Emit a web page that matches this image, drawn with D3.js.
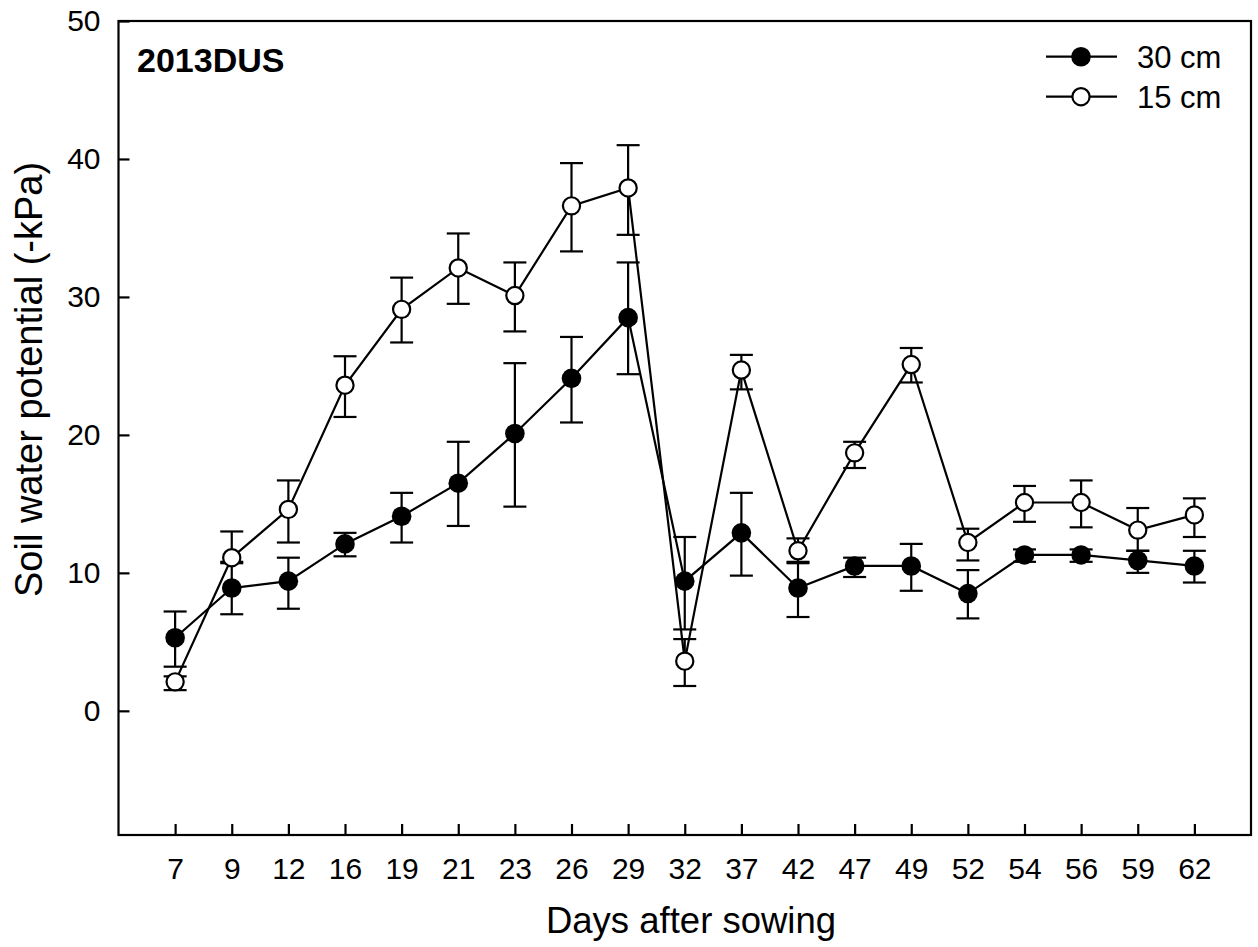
<!DOCTYPE html>
<html>
<head>
<meta charset="utf-8">
<script src="https://cdn.jsdelivr.net/npm/d3@7/dist/d3.min.js"></script>
<style>
  html, body { margin: 0; padding: 0; background: #fff; }
  svg { display: block; font-family: "Liberation Sans", Arial, sans-serif; }
</style>
</head>
<body>
<div id="chart"></div>
<script>
// 파종 후 일수 (x축 범주)
const days = [7, 9, 12, 16, 19, 21, 23, 26, 29, 32, 37, 42, 47, 49, 52, 54, 56, 59, 62];

// 30 cm 깊이 (검은 원)
const depth30 = [5.3, 8.9, 9.4, 12.1, 14.1, 16.5, 20.1, 24.1, 28.5, 9.4, 12.9, 8.9, 10.5, 10.5, 8.5, 11.3, 11.3, 10.9, 10.5];
const depth30Hi = [7.2, 10.8, 11.1, 12.9, 15.8, 19.5, 25.2, 27.1, 32.5, 12.6, 15.8, 10.8, 11.1, 12.1, 10.2, 11.7, 11.7, 11.6, 11.6];
const depth30Lo = [3.2, 7.0, 7.4, 11.2, 12.2, 13.4, 14.8, 20.9, 24.4, 5.9, 9.8, 6.8, 9.7, 8.7, 6.7, 10.8, 10.8, 10.0, 9.3];

// 15 cm 깊이 (흰 원)
const depth15 = [2.1, 11.1, 14.6, 23.6, 29.1, 32.1, 30.1, 36.6, 37.9, 3.6, 24.7, 11.6, 18.7, 25.1, 12.2, 15.1, 15.1, 13.1, 14.2];
const depth15Hi = [2.5, 13.0, 16.7, 25.7, 31.4, 34.6, 32.5, 39.7, 41.0, 5.2, 25.8, 12.5, 19.5, 26.3, 13.2, 16.3, 16.7, 14.7, 15.4];
const depth15Lo = [1.5, 10.7, 12.2, 21.3, 26.7, 29.5, 27.5, 33.3, 34.5, 1.8, 23.3, 10.7, 17.6, 23.8, 10.9, 13.7, 13.3, 11.6, 12.6];

const yTicks = [0, 10, 20, 30, 40, 50];
const seriesLabels = ['30 cm', '15 cm'];

const W = 1258, H = 947;
const plot = { left: 118.5, right: 1251, top: 21, bottom: 835 };
const sw = 2.2; // 선 두께

const svg = d3.select('#chart').append('svg')
    .attr('width', W)
    .attr('height', H);

const x = d3.scalePoint()
    .domain(days.map(String))
    .range([plot.left, plot.right])
    .padding(1);

const y = d3.scaleLinear()
    .domain([-9, 50])
    .range([plot.bottom, plot.top]);

// 축 (눈금은 안쪽으로)
const yAxis = svg.append('g')
    .attr('transform', `translate(${plot.left},0)`)
    .call(d3.axisLeft(y).tickValues(yTicks).tickSize(-11).tickSizeOuter(0).tickPadding(18));

const xAxis = svg.append('g')
    .attr('transform', `translate(0,${plot.bottom})`)
    .call(d3.axisBottom(x).tickSize(-11).tickSizeOuter(0).tickPadding(23));

[xAxis, yAxis].forEach(a => {
    a.select('.domain').remove();
    a.selectAll('.tick line').attr('stroke', '#000').attr('stroke-width', sw);
    a.selectAll('.tick text')
        .attr('fill', '#000')
        .style('font-size', '30px')
        .style('font-family', '"Liberation Sans", Arial, sans-serif');
});

// 테두리
svg.append('rect')
    .attr('x', plot.left)
    .attr('y', plot.top)
    .attr('width', plot.right - plot.left)
    .attr('height', plot.bottom - plot.top)
    .attr('fill', 'none')
    .attr('stroke', '#000')
    .attr('stroke-width', sw);

// 축 제목
svg.append('text')
    .attr('x', 691)
    .attr('y', 933)
    .attr('text-anchor', 'middle')
    .style('font-size', '36.5px')
    .text('Days after sowing');

svg.append('text')
    .attr('transform', 'translate(42,597) rotate(-90)')
    .attr('text-anchor', 'start')
    .style('font-size', '38px')
    .text('Soil water potential (-kPa)');

svg.append('text')
    .attr('x', 137)
    .attr('y', 72)
    .style('font-size', '34px')
    .style('font-weight', 'bold')
    .text('2013DUS');

const series = [
    { name: seriesLabels[0], vals: depth30, hi: depth30Hi, lo: depth30Lo, fill: '#000', r: 9.8 },
    { name: seriesLabels[1], vals: depth15, hi: depth15Hi, lo: depth15Lo, fill: '#fff', r: 8.6 }
];

const line = d3.line()
    .x(d => x(String(d.day)))
    .y(d => y(d.v));

const capHalf = 11.5;

series.forEach(s => {
    const pts = days.map((day, i) => ({ day, v: s.vals[i], hi: s.hi[i], lo: s.lo[i] }));
    const g = svg.append('g');

    g.append('path')
        .datum(pts)
        .attr('d', line)
        .attr('fill', 'none')
        .attr('stroke', '#000')
        .attr('stroke-width', sw);

    // 오차 막대
    const eb = g.selectAll('g.err').data(pts).enter().append('g').attr('class', 'err');
    eb.append('line')
        .attr('x1', d => x(String(d.day))).attr('x2', d => x(String(d.day)))
        .attr('y1', d => y(d.hi)).attr('y2', d => y(d.lo))
        .attr('stroke', '#000').attr('stroke-width', sw);
    eb.append('line')
        .attr('x1', d => x(String(d.day)) - capHalf).attr('x2', d => x(String(d.day)) + capHalf)
        .attr('y1', d => y(d.hi)).attr('y2', d => y(d.hi))
        .attr('stroke', '#000').attr('stroke-width', sw);
    eb.append('line')
        .attr('x1', d => x(String(d.day)) - capHalf).attr('x2', d => x(String(d.day)) + capHalf)
        .attr('y1', d => y(d.lo)).attr('y2', d => y(d.lo))
        .attr('stroke', '#000').attr('stroke-width', sw);

    g.selectAll('circle').data(pts).enter().append('circle')
        .attr('cx', d => x(String(d.day)))
        .attr('cy', d => y(d.v))
        .attr('r', s.r)
        .attr('fill', s.fill)
        .attr('stroke', '#000')
        .attr('stroke-width', s.fill === '#000' ? 0 : sw);
});

// 범례
const legend = svg.append('g');
series.forEach((s, i) => {
    const ly = 56.7 + i * 40;
    legend.append('line')
        .attr('x1', 1046).attr('x2', 1117)
        .attr('y1', ly).attr('y2', ly)
        .attr('stroke', '#000').attr('stroke-width', sw);
    legend.append('circle')
        .attr('cx', 1081).attr('cy', ly)
        .attr('r', s.r)
        .attr('fill', s.fill)
        .attr('stroke', '#000')
        .attr('stroke-width', s.fill === '#000' ? 0 : sw);
    legend.append('text')
        .attr('x', 1137).attr('y', ly)
        .attr('dy', '0.36em')
        .style('font-size', '31px')
        .text(s.name);
});
</script>
</body>
</html>
